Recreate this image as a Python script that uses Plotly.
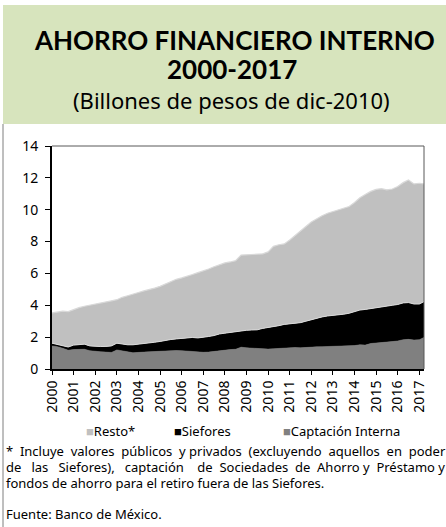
import pandas as pd
import plotly.graph_objects as go

# Ahorro financiero interno, billones de pesos de dic-2010 (lecturas trimestrales)
fechas = list(pd.date_range("2000-01-01", "2017-01-01", freq="QS").strftime("%Y-%m-%d")) + ["2017-03-20"]

captacion = [1.45, 1.40, 1.30, 1.18, 1.22, 1.24, 1.24, 1.15, 1.10, 1.08, 1.06, 1.04,
             1.20, 1.12, 1.08, 1.02, 1.02, 1.06, 1.08, 1.10, 1.12, 1.14, 1.15, 1.16,
             1.15, 1.12, 1.08, 1.05, 1.05, 1.06, 1.10, 1.17, 1.20, 1.22, 1.24, 1.37,
             1.33, 1.30, 1.28, 1.27, 1.25, 1.27, 1.30, 1.33, 1.33, 1.35, 1.33, 1.36,
             1.38, 1.39, 1.40, 1.41, 1.42, 1.43, 1.44, 1.45, 1.47, 1.52, 1.50, 1.60,
             1.62, 1.64, 1.66, 1.72, 1.76, 1.84, 1.86, 1.82, 1.84, 1.98]
siefores = [0.17, 0.15, 0.18, 0.20, 0.28, 0.29, 0.32, 0.30, 0.32, 0.33, 0.36, 0.41,
            0.42, 0.43, 0.44, 0.50, 0.53, 0.54, 0.54, 0.58, 0.61, 0.66, 0.70, 0.73,
            0.78, 0.84, 0.90, 0.90, 0.93, 0.98, 1.00, 1.03, 1.05, 1.08, 1.09, 1.04,
            1.10, 1.15, 1.18, 1.28, 1.35, 1.39, 1.42, 1.47, 1.50, 1.52, 1.58, 1.64,
            1.72, 1.81, 1.87, 1.92, 1.94, 1.97, 2.00, 2.05, 2.13, 2.18, 2.24, 2.20,
            2.23, 2.26, 2.29, 2.28, 2.29, 2.31, 2.31, 2.26, 2.24, 2.25]
resto = [1.90, 2.03, 2.15, 2.22, 2.25, 2.32, 2.38, 2.55, 2.66, 2.74, 2.80, 2.83,
         2.73, 2.95, 3.08, 3.20, 3.25, 3.30, 3.36, 3.40, 3.46, 3.55, 3.65, 3.74,
         3.79, 3.85, 3.95, 4.10, 4.17, 4.24, 4.32, 4.35, 4.41, 4.42, 4.47, 4.74,
         4.75, 4.75, 4.77, 4.68, 4.75, 5.04, 5.08, 5.05, 5.27, 5.53, 5.78, 5.95,
         6.13, 6.25, 6.35, 6.45, 6.52, 6.58, 6.66, 6.70, 6.85, 7.05, 7.21, 7.35,
         7.43, 7.42, 7.30, 7.30, 7.41, 7.55, 7.70, 7.54, 7.58, 7.39]

anios = [str(a) for a in range(2000, 2018)]
y_ticks = list(range(0, 15, 2))

FONT = "Noto Sans"
W, H = 446, 527
L, R, T, B = 52, 22, 146, 158


# pixel -> paper coords
def px(x):
    return (x - L) / (W - L - R)


def py(y):
    return (H - B - y) / (H - T - B)


fig = go.Figure()
fig.add_trace(go.Scatter(x=fechas, y=captacion, name="Captación Interna", stackgroup="one",
                         mode="lines", line=dict(color="#808080", width=0.5), fillcolor="#808080"))
fig.add_trace(go.Scatter(x=fechas, y=siefores, name="Siefores", stackgroup="one",
                         mode="lines", line=dict(color="#d9d9d9", width=1), fillcolor="#000000"))
fig.add_trace(go.Scatter(x=fechas, y=resto, name="Resto*", stackgroup="one",
                         mode="lines", line=dict(color="#d9d9d9", width=1.2), fillcolor="#c0c0c0"))

fig.update_layout(
    width=W, height=H, margin=dict(l=L, r=R, t=T, b=B),
    paper_bgcolor="white", plot_bgcolor="white", showlegend=False,
    font=dict(family=FONT, size=13, color="#000000"),
    xaxis=dict(range=["2000-01-01", "2017-03-20"], tickvals=[a + "-01-01" for a in anios],
               ticktext=anios, tickangle=-90, showgrid=False, showline=True,
               linecolor="#000000", linewidth=2, ticks="outside", ticklen=4,
               tickcolor="#000000", tickfont=dict(size=14)),
    yaxis=dict(range=[0, 14], tickvals=y_ticks, showgrid=False, showline=True,
               linecolor="#000000", linewidth=2, ticks="outside", ticklen=5,
               tickcolor="#000000", tickfont=dict(size=14), zeroline=False,
               ticklabelstandoff=4),
)

shapes = [
    # title box
    dict(type="rect", xref="paper", yref="paper", x0=px(3), x1=px(446), y0=py(124), y1=py(5),
         fillcolor="#d7e4bd", line=dict(width=0), layer="below"),
    # left border of panel
    dict(type="line", xref="paper", yref="paper", x0=px(3), x1=px(3), y0=py(527), y1=py(124),
         line=dict(color="#7f7f7f", width=1)),
    # top / right frame of plot
    dict(type="line", xref="paper", yref="paper", x0=0, x1=1, y0=1, y1=1,
         line=dict(color="#595959", width=1)),
    dict(type="line", xref="paper", yref="paper", x0=1, x1=1, y0=0, y1=1,
         line=dict(color="#595959", width=1)),
]
fig.update_layout(shapes=shapes)

ann = [
    dict(text="<b>AHORRO FINANCIERO INTERNO</b>", x=px(234), y=py(40), size=26, family="Lato"),
    dict(text="<b>2000-2017</b>", x=px(232), y=py(69), size=26, family="Lato"),
    dict(text="(Billones de pesos de dic-2010)", x=px(231), y=py(100), size=22, family=FONT),
]
for a in ann:
    fig.add_annotation(text=a["text"], x=a["x"], y=a["y"], xref="paper", yref="paper",
                       showarrow=False, xanchor="center", yanchor="middle",
                       font=dict(size=a["size"], family=a["family"], color="#000000"))

leyenda = [("Resto*", "#c0c0c0", 84), ("Siefores", "#000000", 172), ("Captación Interna", "#808080", 281)]
for nombre, color, x0 in leyenda:
    fig.add_annotation(text=f"<span style='color:{color}'>■</span>{nombre}", x=px(x0), y=py(431),
                       xref="paper", yref="paper", showarrow=False, xanchor="left", yanchor="middle",
                       font=dict(size=13, family=FONT, color="#000000"))

# texto justificado a mano con espacios extra
nota = [
    ("*  Incluye  valores  públicos  y privados  (excluyendo  aquellos  en  poder", 451),
    ("de   las   Siefores),   captación    de  Sociedades  de  Ahorro y  Préstamo y", 467),
    ("fondos de ahorro para el retiro fuera de las Siefores.", 483),
    ("Fuente: Banco de México.", 514),
]
for linea, y in nota:
    fig.add_annotation(text=linea, x=px(4), y=py(y), xref="paper", yref="paper",
                       showarrow=False, xanchor="left", yanchor="middle",
                       font=dict(size=13, family=FONT, color="#000000"))

# quitar el margen por defecto del <body> para que la figura empiece en (0, 0)
fig.write_html("out.html", config={"displayModeBar": False},
               post_script="document.body.style.margin='0';")
